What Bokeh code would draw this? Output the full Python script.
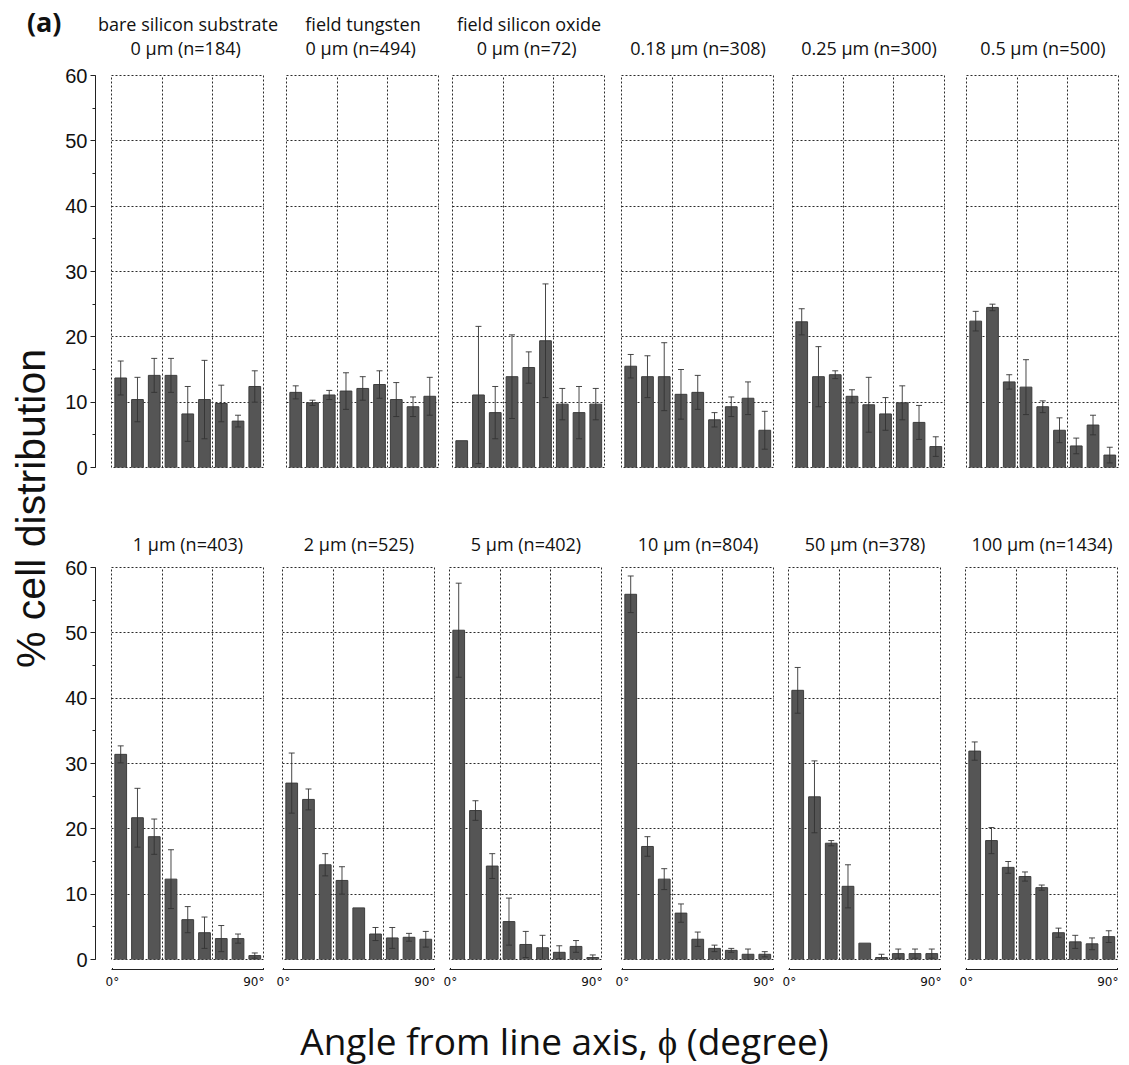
import math
from bokeh.plotting import figure
from bokeh.models import (ColumnDataSource, Range1d, Grid, FixedTicker, SingleIntervalTicker,
                          Whisker, TeeHead, Title, Label)
from bokeh.layouts import row, column
from bokeh.embed import file_html
from bokeh.resources import INLINE

# 10-degree angle bins (bin centres), shared by every panel
angle_bins = [5, 15, 25, 35, 45, 55, 65, 75, 85]
angle_ticks = [0, 90]
angle_tick_labels = ["0°", "90°"]

# mean % of cells per bin and its error, one pair per substrate / line width
bare_si_pct = [13.7, 10.4, 14.1, 14.1, 8.2, 10.4, 9.8, 7.1, 12.4]
bare_si_err = [2.6, 3.4, 2.6, 2.6, 4.2, 6.0, 2.8, 0.9, 2.4]
field_w_pct = [11.5, 9.9, 11.1, 11.7, 12.1, 12.7, 10.4, 9.3, 10.9]
field_w_err = [1.0, 0.4, 0.7, 2.8, 1.8, 2.1, 2.6, 1.5, 2.9]
field_ox_pct = [4.1, 11.1, 8.4, 13.9, 15.3, 19.4, 9.7, 8.4, 9.7]
field_ox_err = [0.0, 10.5, 4.0, 6.4, 2.4, 8.7, 2.4, 4.0, 2.4]
w018_pct = [15.5, 13.9, 13.9, 11.2, 11.5, 7.3, 9.3, 10.6, 5.7]
w018_err = [1.8, 3.2, 5.2, 3.8, 2.6, 1.1, 1.5, 2.5, 2.9]
w025_pct = [22.3, 13.9, 14.2, 10.9, 9.6, 8.2, 9.9, 6.9, 3.2]
w025_err = [2.0, 4.6, 0.6, 1.0, 4.2, 2.5, 2.6, 2.6, 1.5]
w05_pct = [22.4, 24.5, 13.1, 12.3, 9.3, 5.7, 3.3, 6.5, 1.9]
w05_err = [1.5, 0.5, 1.1, 4.2, 0.9, 1.9, 1.2, 1.5, 1.2]
w1_pct = [31.4, 21.7, 18.8, 12.3, 6.1, 4.1, 3.2, 3.2, 0.6]
w1_err = [1.3, 4.5, 2.7, 4.5, 2.0, 2.4, 2.0, 0.7, 0.4]
w2_pct = [27.0, 24.5, 14.5, 12.1, 7.9, 3.9, 3.3, 3.4, 3.1]
w2_err = [4.6, 1.6, 1.7, 2.1, 0.0, 1.0, 1.6, 0.6, 1.2]
w5_pct = [50.4, 22.8, 14.3, 5.8, 2.3, 1.8, 1.1, 2.0, 0.3]
w5_err = [7.2, 1.5, 1.9, 3.6, 2.0, 1.9, 1.0, 0.9, 0.4]
w10_pct = [55.9, 17.3, 12.3, 7.1, 3.1, 1.7, 1.4, 0.8, 0.8]
w10_err = [2.8, 1.5, 1.6, 1.4, 1.1, 0.5, 0.3, 0.8, 0.4]
w50_pct = [41.2, 24.9, 17.8, 11.2, 2.5, 0.3, 0.9, 0.9, 0.9]
w50_err = [3.5, 5.5, 0.4, 3.3, 0.0, 0.5, 0.7, 0.7, 0.7]
w100_pct = [31.9, 18.2, 14.1, 12.7, 11.0, 4.1, 2.7, 2.4, 3.5]
w100_err = [1.4, 2.0, 0.9, 0.7, 0.4, 0.7, 1.0, 0.9, 0.9]

top_groups = ["bare silicon substrate", "field tungsten", "field silicon oxide", None, None, None]
top_titles = ["0 μm  (n=184)", "0 μm  (n=494)", "0 μm  (n=72)",
              "0.18 μm (n=308)", "0.25 μm (n=300)", "0.5 μm (n=500)"]
bottom_titles = ["1 μm (n=403)", "2 μm (n=525)", "5 μm (n=402)",
                 "10 μm (n=804)", "50 μm (n=378)", "100 μm (n=1434)"]
top_series = [(bare_si_pct, bare_si_err), (field_w_pct, field_w_err), (field_ox_pct, field_ox_err),
              (w018_pct, w018_err), (w025_pct, w025_err), (w05_pct, w05_err)]
bottom_series = [(w1_pct, w1_err), (w2_pct, w2_err), (w5_pct, w5_err),
                 (w10_pct, w10_err), (w50_pct, w50_err), (w100_pct, w100_err)]

FRAME_W, FRAME_H = 153, 392
X_LO, X_HI = -0.5, 90.8
YAXIS_W = 34                 # width of the strip carrying the % axis
SIDE_W = 62                  # width of the strip carrying the rotated y label
HEADER_H = 62                # strip above the first row holding its two-line titles
# (left border, right border) around each panel frame
TOP_BORDERS = [(15, 0), (22, 0), (13, 0), (16, 0), (18, 0), (21, 0)]
BOTTOM_BORDERS = [(15, 0), (18, 0), (14, 0), (19, 0), (14, 0), (24, 0)]
TITLE_FONT = "Open Sans"
TITLE_SIZE = "18px"
TEXT_COLOR = "#111111"
BAR_FILL, BAR_LINE, ERR_COLOR, GRID_COLOR = "#555555", "#3d3d3d", "#333333", "#2b2b2b"


def panel(pct, err, borders, top_border, bottom_border, title=None, title_standoff=0):
    kw = {}
    if title:
        kw["title"] = Title(text=title, align="center", text_font=TITLE_FONT,
                            text_font_size=TITLE_SIZE, text_font_style="normal",
                            text_color=TEXT_COLOR, standoff=title_standoff)
    p = figure(frame_width=FRAME_W, frame_height=FRAME_H,
               x_range=Range1d(X_LO, X_HI), y_range=Range1d(0, 60),
               x_axis_type=None, y_axis_type=None, toolbar_location=None, output_backend="svg",
               min_border_left=borders[0], min_border_right=borders[1],
               min_border_top=top_border, min_border_bottom=bottom_border, **kw)
    p.outline_line_color = GRID_COLOR
    p.outline_line_dash = "2 2"
    p.outline_line_width = 1
    p.add_layout(Grid(dimension=0, ticker=FixedTicker(ticks=[30, 60]), grid_line_color=GRID_COLOR,
                      grid_line_dash="2 2", grid_line_width=1))
    p.add_layout(Grid(dimension=1, ticker=FixedTicker(ticks=[10, 20, 30, 40, 50]),
                      grid_line_color=GRID_COLOR, grid_line_dash="2 2", grid_line_width=1))
    src = ColumnDataSource(dict(x=angle_bins, pct=pct))
    p.vbar(x="x", top="pct", bottom=0, width=7, source=src,
           fill_color=BAR_FILL, line_color=BAR_LINE, line_width=1)
    keep = [i for i, e in enumerate(err) if e > 0]
    esrc = ColumnDataSource(dict(
        x=[angle_bins[i] for i in keep],
        upper=[pct[i] + err[i] for i in keep],
        lower=[pct[i] - err[i] for i in keep]))
    w = Whisker(source=esrc, base="x", upper="upper", lower="lower",
                line_color=ERR_COLOR, line_width=0.9, level="annotation",
                upper_head=TeeHead(size=6, line_color=ERR_COLOR, line_width=0.9),
                lower_head=TeeHead(size=6, line_color=ERR_COLOR, line_width=0.9))
    p.add_layout(w)
    return p


def y_axis_fig(top_border, bottom_border):
    p = figure(frame_width=1, frame_height=FRAME_H, x_range=Range1d(0, 1), y_range=Range1d(0, 60),
               x_axis_type=None, toolbar_location=None, output_backend="svg",
               min_border_left=YAXIS_W - 1, min_border_right=0,
               min_border_top=top_border, min_border_bottom=bottom_border)
    p.outline_line_color = None
    p.ygrid.visible = False
    ax = p.yaxis[0]
    ax.ticker = SingleIntervalTicker(interval=10, num_minor_ticks=2)
    ax.axis_line_color = "#222222"
    ax.major_tick_line_color = "#222222"
    ax.minor_tick_line_color = "#222222"
    ax.major_tick_out, ax.major_tick_in = 5, 0
    ax.minor_tick_out, ax.minor_tick_in = 3, 0
    ax.major_label_standoff = 3
    ax.major_label_text_font = "Liberation Sans"
    ax.major_label_text_font_size = "20px"
    ax.major_label_text_color = TEXT_COLOR
    return p


def x_axis_fig(borders):
    p = figure(frame_width=FRAME_W, frame_height=1, x_range=Range1d(X_LO, X_HI), y_range=Range1d(0, 1),
               y_axis_type=None, toolbar_location=None, output_backend="svg",
               min_border_left=borders[0], min_border_right=borders[1],
               min_border_top=0, min_border_bottom=31)
    p.outline_line_color = None
    p.xgrid.visible = False
    ax = p.xaxis[0]
    ax.ticker = FixedTicker(ticks=angle_ticks)
    ax.major_label_overrides = {t: s for t, s in zip(angle_ticks, angle_tick_labels)}
    ax.axis_line_color = "#222222"
    ax.major_tick_line_color = "#222222"
    ax.major_tick_in, ax.major_tick_out = 4, 0
    ax.minor_tick_line_color = None
    ax.major_label_standoff = 5
    ax.major_label_text_font = "DejaVu Sans"
    ax.major_label_text_font_size = "12px"
    ax.major_label_text_color = TEXT_COLOR
    return p


def blank(width, height):
    p = figure(width=width, height=height, x_range=Range1d(0, 1), y_range=Range1d(0, 1),
               x_axis_type=None, y_axis_type=None, toolbar_location=None, output_backend="svg",
               min_border=0)
    p.outline_line_color = None
    return p


# header strip: substrate name and line width / count, centred over each first-row frame
header = blank(1129 - SIDE_W, HEADER_H)
left = YAXIS_W
for (lb, rb), group, title in zip(TOP_BORDERS, top_groups, top_titles):
    centre = left + lb + FRAME_W / 2
    if group:
        header.add_layout(Label(x=centre, y=HEADER_H - 23, x_units="screen", y_units="screen",
                                text=group, text_align="center", text_baseline="middle",
                                text_font=TITLE_FONT, text_font_size=TITLE_SIZE, text_color=TEXT_COLOR))
    header.add_layout(Label(x=centre, y=HEADER_H - 47, x_units="screen", y_units="screen",
                            text=title, text_align="center", text_baseline="middle",
                            text_font=TITLE_FONT, text_font_size=TITLE_SIZE, text_color=TEXT_COLOR))
    left += lb + FRAME_W + rb

TOP_BORDER = 75 - HEADER_H
top_row = row([y_axis_fig(TOP_BORDER, 20)] + [
    panel(s[0], s[1], b, TOP_BORDER, 20) for s, b in zip(top_series, TOP_BORDERS)])
bottom_panels = row([panel(s[0], s[1], b, 80, 9, title=t, title_standoff=23)
                     for s, t, b in zip(bottom_series, bottom_titles, BOTTOM_BORDERS)])
axis_row = row([x_axis_fig(b) for b in BOTTOM_BORDERS])
bottom_block = row(y_axis_fig(80, 41), column(bottom_panels, axis_row))
panels = column(header, top_row, bottom_block)

side = blank(SIDE_W, 1000)
side.add_layout(Label(x=30, y=492, x_units="screen", y_units="screen", text="% cell distribution",
                      angle=math.pi / 2, text_align="center", text_baseline="middle",
                      text_font="Liberation Sans", text_font_size="41px", text_color=TEXT_COLOR))
side.add_layout(Label(x=61, y=979, x_units="screen", y_units="screen", text="(a)",
                      text_align="right", text_baseline="middle", text_font="Open Sans",
                      text_font_style="bold", text_font_size="27px", text_color=TEXT_COLOR))

footer = blank(1129, 65)
footer.add_layout(Label(x=564, y=25, x_units="screen", y_units="screen",
                        text="Angle from line axis, ϕ (degree)", text_align="center",
                        text_baseline="middle", text_font="Open Sans", text_font_size="37px",
                        text_color=TEXT_COLOR))

page = column(row(side, panels), footer)

with open("out.html", "w") as f:
    f.write(file_html(page, INLINE))
